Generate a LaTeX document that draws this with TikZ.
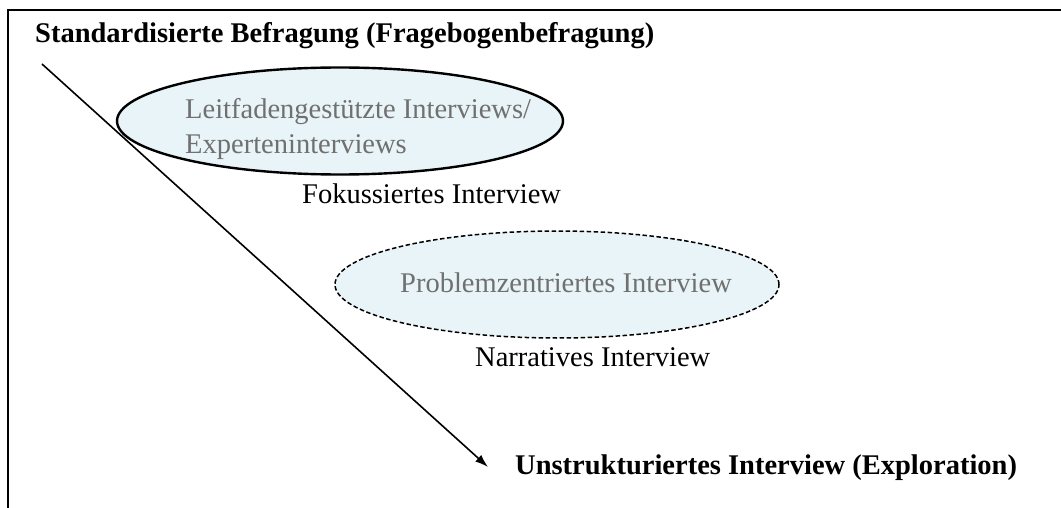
\documentclass[tikz,border=0pt]{standalone}
\usepackage{fontspec}
\setmainfont{Liberation Serif}
\usetikzlibrary{shapes.geometric,arrows.meta}
\definecolor{ellfill}{HTML}{E8F4F7}
\definecolor{graytext}{HTML}{707070}
\tikzset{
  lbl/.style={anchor=base west, inner sep=0pt, font=\fontsize{28.5}{34}\selectfont},
  boldlbl/.style={anchor=base west, inner sep=0pt, font=\fontsize{28.5}{34}\selectfont\bfseries},
  grey/.style={text=graytext},
  solidell/.style={ellipse, draw, line width=2.4pt, fill=ellfill, minimum width=446pt, minimum height=107pt, inner sep=0pt},
  dashell/.style={ellipse, draw, line width=1.5pt, dash pattern=on 4.5pt off 2.5pt, fill=ellfill, minimum width=444pt, minimum height=107pt, inner sep=0pt},
}
\begin{document}
\begin{tikzpicture}[x=1pt,y=-1pt]
\useasboundingbox (0,0) rectangle (1061,508);
% open frame
\draw[line width=1.5pt] (8,510) -- (8,10) -- (1063,10);
% nodes
\node[boldlbl] (top) at (35,43) {Standardisierte Befragung (Fragebogenbefragung)};
\coordinate (start) at (42,64);
\coordinate (tip) at (488,467);
\node[solidell] (e1) at (340,121) {};
\node[lbl, grey] (lt1) at (185,119) {Leitfadengestützte Interviews/};
\node[lbl, grey] (lt2) at (185,154) {Experteninterviews};
\node[lbl] (fok) at (302,204) {Fokussiertes Interview};
\node[dashell] (e2) at (557,284.5) {};
\node[lbl, grey] (prob) at (400,292) {Problemzentriertes Interview};
\node[lbl] (narr) at (475,366) {Narratives Interview};
\node[boldlbl] (unstr) at (515,474) {Unstrukturiertes Interview (Exploration)};
\draw[line width=1.6pt, -{Latex[length=13pt,width=9pt]}] (start) -- (tip);
\end{tikzpicture}
\end{document}
